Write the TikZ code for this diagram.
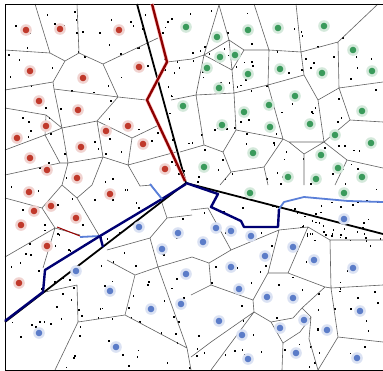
\documentclass[tikz,border=0pt]{standalone}
\begin{document}
\begin{tikzpicture}[x=1pt,y=-1pt]
\tikzset{
  mesh/.style={draw=black!62,line width=0.6pt},
  sep/.style={draw=black,line width=1.8pt},
  redpath/.style={draw=red!55!black,line width=2.3pt,line join=round},
  navypath/.style={draw=blue!45!black,line width=2.4pt,line join=round},
  lightpath/.style={line width=1.8pt,line join=round},
}
\definecolor{rdot}{HTML}{C0392B}
\definecolor{gdot}{HTML}{3A9A5B}
\definecolor{bdot}{HTML}{5B7CC8}
\definecolor{lb}{HTML}{5A7FD8}
\useasboundingbox (0,0) rectangle (383,370);
\fill[white] (0,0) rectangle (383,370);
% speckles
\pgfmathsetseed{7}
\foreach \i in {1,...,340}{
  \pgfmathsetmacro{\sx}{8+rnd*372}
  \pgfmathsetmacro{\sy}{7+rnd*360}
  \fill[black] (\sx,\sy) rectangle ++(1.6,1.9);
}
\foreach \i in {1,...,40}{
  \pgfmathsetmacro{\sx}{290+rnd*90}
  \pgfmathsetmacro{\sy}{200+rnd*40}
  \fill[black] (\sx,\sy) rectangle ++(1.5,1.8);
}
% mesh (approximate)
\draw[mesh] (35,4)--(50,53) (5,50)--(50,53)--(65,61)--(79,53)--(77,4)
 (79,53)--(103,64)--(158,38) (103,64)--(118,97)--(146,100)
 (65,61)--(53,82)--(5,90) (53,82)--(54,89)--(118,97) (54,89)--(62,128)
 (5,108)--(46,115)--(62,128) (118,97)--(97,121)--(62,128)
 (97,121)--(132,138)--(159,125) (132,138)--(128,165)--(103,157)--(97,121)
 (46,115)--(45,135)--(5,150) (45,135)--(62,128) (45,135)--(60,163)--(68,163)--(62,128)
 (68,163)--(103,157) (60,163)--(5,175) (68,163)--(62,185)--(42,208) (128,165)--(176,152)
 (128,165)--(140,186)--(152,185) (103,157)--(92,185)--(77,198)
 (5,198)--(42,208)--(55,228)--(80,235) (55,228)--(43,268) (55,228)--(5,257)
 (42,208)--(62,185) (77,198)--(100,237) (77,198)--(62,185)
% right top green
 (167,62)--(192,59)--(204,55)--(219,5) (204,55)--(229,40)--(219,5)
 (229,40)--(244,50)--(232,70)--(204,55) (229,40)--(232,70)
 (254,4)--(269,50)--(244,50) (296,4)--(301,52)--(269,50)
 (301,52)--(338,42)--(378,4) (338,42)--(339,88)--(383,82)
 (269,50)--(268,85)--(234,93) (232,70)--(234,93)--(236,130)
 (268,85)--(304,75)--(301,52) (304,75)--(318,100)--(339,88)
 (204,55)--(196,95)--(234,93) (196,95)--(171,100)
 (236,130)--(223,152)--(204,145)--(196,95) (204,145)--(180,152)
 (223,152)--(231,172)--(220,185) (236,130)--(283,139)--(289,142)
 (268,85)--(283,139) (318,100)--(324,142)--(289,142)
 (324,142)--(350,120)--(339,88) (350,120)--(383,122)
 (289,142)--(304,154)--(304,185) (324,142)--(347,160)--(383,168)
 (304,154)--(324,142) (347,160)--(335,185) (283,139)--(264,167)--(268,185)
 (231,172)--(264,167);
% lower right blue
\draw[mesh] (191,210)--(208,208) (208,208)--(231,250)--(209,263)--(192,257)
 (231,250)--(279,230)--(308,227)--(330,240)--(383,240)
 (279,230)--(268,273)--(288,273)--(308,227) (330,240)--(331,288)
 (209,263)--(211,285)--(253,300)--(268,273) (288,273)--(325,287)--(331,288)--(383,285)
 (211,285)--(191,295) (253,300)--(254,312)--(271,322)--(293,318)--(302,308)--(325,287)
 (302,308)--(311,317)--(309,339)--(318,370) (331,288)--(338,337)--(383,342)
 (338,337)--(318,370) (271,322)--(283,343)--(300,332)--(311,317) (283,343)--(282,370)
 (254,312)--(211,342)--(191,357) (254,312)--(211,370)
 (167,218)--(192,215) (161,200)--(167,218)--(150,238)--(107,250)
 (150,238)--(158,267)--(192,257) (158,267)--(135,275)--(107,260)
 (135,275)--(125,315)--(78,322)--(77,285) (77,285)--(45,292)
 (158,267)--(187,348)--(191,370) (125,315)--(187,348) (78,322)--(55,370);
% frame
\draw[black,line width=1pt] (5,4) rectangle (383,370);
% separator line
\draw[sep] (137,4)--(186,183)--(383,234) (186,183)--(5,322);
% red path
\draw[draw=red!25,line width=3.6pt,line join=round] (152,4)--(167,62)--(147,100)--(185,181);
\draw[redpath] (152,4)--(167,62)--(147,100)--(185,181);
\draw[draw=red!60!black,line width=1pt] (57,227)--(80,236);
% blue paths
\draw[lightpath,draw=lb] (279,209)--(284,202)--(304,197)--(348,201)--(383,202);
\draw[lightpath,draw=lb] (100,236)--(80,237);
\draw[navypath] (186,183)--(218,194)--(211,207)--(241,221)--(244,227)--(278,227)--(279,209);
\draw[navypath] (186,184)--(162,199) (162,199)--(100,236)--(45,270)--(43,292)--(5,321);
\draw[lightpath,draw=lb] (162,199)--(150,184);
\draw[navypath] (100,236)--(103,247);
% sites
\foreach \p in {(26,30),(60,29),(119,30),(30,71),(83,78),(139,67),(39,101),(78,110),(128,126),(106,131),(46,126),(17,138),(81,147),(143,144),(30,158),(47,170),(77,178),(165,169),(29,192),(110,194),(51,206),(34,211),(76,218),(21,225),(47,246),(19,283)}{
  \fill[rdot!22] \p circle (5.8);
  \fill[rdot] \p circle (3.3);}
\foreach \p in {(186,27),(183,106),(248,30),(278,28),(324,26),(217,37),(220,57),(235,55),(207,68),(248,74),(280,69),(322,73),(353,50),(372,71),(219,88),(295,96),(244,112),(269,105),(222,125),(270,127),(310,124),(362,111),(335,135),(371,143),(253,153),(321,155),(338,168),(204,167),(288,177),(316,179),(362,177),(250,193),(344,193)}{
  \fill[gdot!22] \p circle (5.8);
  \fill[gdot] \p circle (3.3);}
\foreach \p in {(139,227),(178,233),(162,249),(76,271),(186,274),(110,291),(181,304),(151,309),(39,333),(116,347),(216,228),(231,231),(251,236),(203,242),(265,256),(293,247),(314,260),(344,219),(353,268),(231,267),(239,289),(267,297),(293,298),(360,311),(304,320),(219,321),(280,328),(327,330),(242,335),(296,353),(248,359),(357,358)}{
  \fill[bdot!22] \p circle (5.8);
  \fill[bdot] \p circle (3.3);}
\end{tikzpicture}
\end{document}
